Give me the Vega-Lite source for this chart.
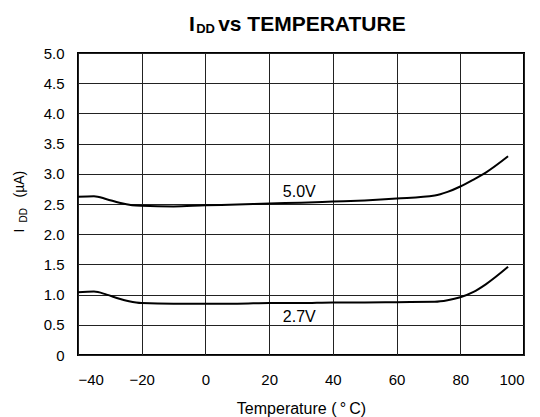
{
  "$schema": "https://vega.github.io/schema/vega-lite/v6.json",
  "width": 446,
  "height": 302,
  "autosize": "none",
  "padding": {"left": 78, "top": 53, "right": 16, "bottom": 62},
  "background": "white",
  "config": {
    "font": "Liberation Sans",
    "view": {"stroke": "black", "strokeWidth": 2}
  },
  "title": {
    "text": "I\u00a0\u00a0\u00a0 vs TEMPERATURE",
    "subtitle": "\u200b\u00a0\u00a0DD",
    "anchor": "start",
    "frame": "group",
    "dx": 111,
    "fontSize": 21,
    "fontWeight": "bold",
    "color": "black",
    "subtitleFontSize": 13,
    "subtitleFontWeight": "bold",
    "subtitleColor": "black",
    "subtitlePadding": -12,
    "offset": 10
  },
  "datasets": {
    "curves": [
      {"V": "5.0V", "T": -40, "I": 2.62},
      {"V": "5.0V", "T": -35, "I": 2.63},
      {"V": "5.0V", "T": -31, "I": 2.58},
      {"V": "5.0V", "T": -27, "I": 2.52},
      {"V": "5.0V", "T": -23, "I": 2.48},
      {"V": "5.0V", "T": -20, "I": 2.47},
      {"V": "5.0V", "T": -10, "I": 2.46},
      {"V": "5.0V", "T": 0, "I": 2.48},
      {"V": "5.0V", "T": 10, "I": 2.49},
      {"V": "5.0V", "T": 20, "I": 2.51},
      {"V": "5.0V", "T": 30, "I": 2.52},
      {"V": "5.0V", "T": 40, "I": 2.54},
      {"V": "5.0V", "T": 50, "I": 2.56},
      {"V": "5.0V", "T": 60, "I": 2.59},
      {"V": "5.0V", "T": 72, "I": 2.64},
      {"V": "5.0V", "T": 76, "I": 2.7},
      {"V": "5.0V", "T": 80, "I": 2.79},
      {"V": "5.0V", "T": 84, "I": 2.9},
      {"V": "5.0V", "T": 88, "I": 3.02},
      {"V": "5.0V", "T": 95, "I": 3.29},
      {"V": "2.7V", "T": -40, "I": 1.04},
      {"V": "2.7V", "T": -35, "I": 1.05},
      {"V": "2.7V", "T": -31, "I": 1.0},
      {"V": "2.7V", "T": -27, "I": 0.93},
      {"V": "2.7V", "T": -24, "I": 0.89},
      {"V": "2.7V", "T": -20, "I": 0.86},
      {"V": "2.7V", "T": -10, "I": 0.85},
      {"V": "2.7V", "T": 0, "I": 0.85},
      {"V": "2.7V", "T": 10, "I": 0.85},
      {"V": "2.7V", "T": 20, "I": 0.86},
      {"V": "2.7V", "T": 30, "I": 0.86},
      {"V": "2.7V", "T": 40, "I": 0.87},
      {"V": "2.7V", "T": 50, "I": 0.87},
      {"V": "2.7V", "T": 60, "I": 0.875},
      {"V": "2.7V", "T": 72, "I": 0.88},
      {"V": "2.7V", "T": 76, "I": 0.905},
      {"V": "2.7V", "T": 80, "I": 0.955},
      {"V": "2.7V", "T": 84, "I": 1.04},
      {"V": "2.7V", "T": 88, "I": 1.17},
      {"V": "2.7V", "T": 95, "I": 1.46}
    ],
    "labels": [
      {"label": "5.0V", "T": 24.3, "I": 2.62},
      {"label": "2.7V", "T": 24.3, "I": 0.55}
    ]
  },
  "layer": [
    {
      "data": {"name": "curves"},
      "mark": {"type": "line", "color": "black", "strokeWidth": 2, "interpolate": "monotone"},
      "encoding": {
        "x": {
          "field": "T",
          "type": "quantitative",
          "scale": {"domain": [-40, 100], "nice": false},
          "axis": {
            "values": [-40, -20, 0, 20, 40, 60, 80, 100],
            "title": "Temperature (\u2009\u00b0\u2009C)",
            "titleFontSize": 16,
            "titleFontWeight": "normal",
            "titleColor": "black",
            "titlePadding": 13,
            "labelFontSize": 15,
            "labelColor": "black",
            "labelPadding": 17,
            "ticks": false,
            "domain": false,
            "grid": true,
            "gridColor": "#222222",
            "gridWidth": 1,
            "gridOpacity": 1
          }
        },
        "y": {
          "field": "I",
          "type": "quantitative",
          "scale": {"domain": [0, 5], "nice": false},
          "axis": {
            "values": [0, 0.5, 1, 1.5, 2, 2.5, 3, 3.5, 4, 4.5, 5],
            "labelExpr": "datum.value == 0 ? '0' : format(datum.value, '.1f')",
            "labelFontSize": 15,
            "labelColor": "black",
            "labelPadding": 14,
            "title": "I\u00a0\u00a0\u00a0\u00a0\u00a0\u00a0\u00a0 (\u00b5A)",
            "titleFontSize": 14,
            "titleFontWeight": "normal",
            "titleColor": "black",
            "titleAngle": 270,
            "titleAlign": "left",
            "titleBaseline": "alphabetic",
            "titleX": -55,
            "titleY": 179,
            "ticks": false,
            "domain": false,
            "grid": true,
            "gridColor": "#222222",
            "gridWidth": 1,
            "gridOpacity": 1
          }
        },
        "detail": {"field": "V"}
      }
    },
    {
      "data": {"name": "labels"},
      "mark": {"type": "text", "align": "left", "baseline": "alphabetic", "fontSize": 16, "color": "black"},
      "encoding": {
        "x": {"field": "T", "type": "quantitative"},
        "y": {
          "field": "I",
          "type": "quantitative",
          "axis": {
            "orient": "left",
            "title": "DD",
            "titleFontSize": 10,
            "titleFontWeight": "normal",
            "titleColor": "black",
            "titleAngle": 270,
            "titleAlign": "left",
            "titleBaseline": "alphabetic",
            "titleX": -52,
            "titleY": 169,
            "labels": false,
            "ticks": false,
            "domain": false,
            "grid": false
          }
        },
        "text": {"field": "label"}
      }
    }
  ],
  "resolve": {"axis": {"y": "independent"}}
}
